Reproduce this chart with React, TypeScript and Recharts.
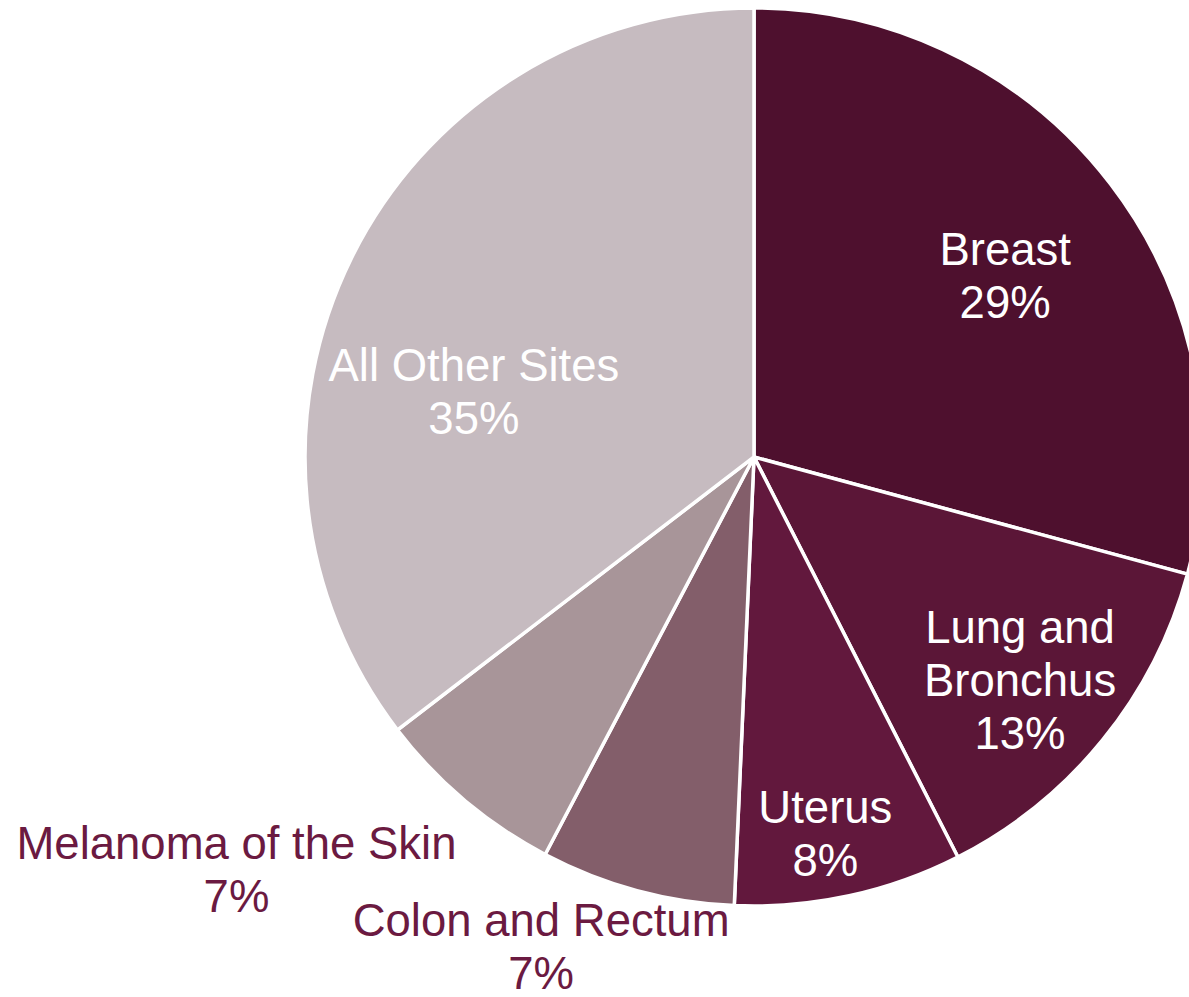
import { PieChart, Pie, Cell } from "recharts"

// share of new cancer cases (degrees -> percent)
const sites = ["Breast", "Lung and\nBronchus", "Uterus", "Colon and Rectum", "Melanoma of the Skin", "All Other Sites"]
const shares = [29.2, 13.3, 8.2, 7.0, 6.9, 35.4]
const colors = ["#4E102E", "#5B1637", "#62183D", "#835E6A", "#A89599", "#C6BBC0"]

const data = sites.map((name, i) => ({ name, value: shares[i] }))

// where each label sits: fraction of radius + clockwise nudge from the slice middle
const labelSpot: Record<string, { r: number; shift: number; outside?: boolean }> = {
  "Breast": { r: 0.69, shift: 1.6 },
  "Lung and\nBronchus": { r: 0.773, shift: 0.9 },
  "Uterus": { r: 0.853, shift: 1.5 },
  "Colon and Rectum": { r: 1.188, shift: 8.4, outside: true },
  "Melanoma of the Skin": { r: 1.474, shift: 11.3, outside: true },
  "All Other Sites": { r: 0.641, shift: -13 },
}

const FONT = "'Liberation Sans', Arial, sans-serif"
const SIZE = 45.5
const LINE = 53
const CAP = 32.5
const RAD = Math.PI / 180

function SliceLabel(props: any) {
  const { cx, cy, midAngle, outerRadius, name, value } = props
  const spot = labelSpot[name]
  const ang = midAngle - spot.shift
  const x = cx + outerRadius * spot.r * Math.cos(-ang * RAD)
  const y = cy + outerRadius * spot.r * Math.sin(-ang * RAD)
  const lines = [...name.split("\n"), `${Math.round(value)}%`]
  const block = CAP + (lines.length - 1) * LINE
  const first = y - block / 2 + CAP
  return (
    <text x={x} y={first} textAnchor="middle" fontFamily={FONT} fontSize={SIZE}
      fill={spot.outside ? "#6B1A41" : "#ffffff"}>
      {lines.map((l, i) => (
        <tspan key={i} x={x} y={first + i * LINE}>{l}</tspan>
      ))}
    </text>
  )
}

export default function App() {
  return (
    <div style={{ position: "absolute", left: 0, top: 0, width: 1189, height: 997, background: "#fff" }}>
      <PieChart width={1189} height={997} margin={{ top: 0, right: 0, bottom: 0, left: 0 }}>
        <Pie data={data} dataKey="value" nameKey="name" cx={754} cy={457}
          outerRadius={449} startAngle={90} endAngle={-270}
          stroke="#ffffff" strokeWidth={3.5} labelLine={false}
          label={SliceLabel} isAnimationActive={false}>
          {data.map((d, i) => (
            <Cell key={d.name} fill={colors[i]} />
          ))}
        </Pie>
      </PieChart>
    </div>
  )
}
